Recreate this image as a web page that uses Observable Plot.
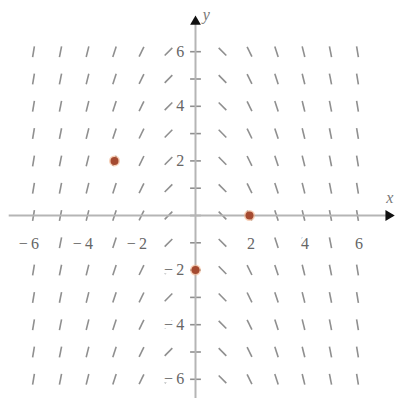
<!DOCTYPE html>
<html>
<head>
<meta charset="utf-8">
<script src="https://cdn.jsdelivr.net/npm/d3@7"></script>
<script src="https://cdn.jsdelivr.net/npm/@observablehq/plot@0.6"></script>
<style>
  html, body { margin: 0; padding: 0; background: #fff; }
</style>
</head>
<body>
<div id="chart"></div>
<script>
// grid of slope-field sample points
const gridX = [-6, -5, -4, -3, -2, -1, 0, 1, 2, 3, 4, 5, 6];
const gridY = [-6, -5, -4, -3, -2, -1, 0, 1, 2, 3, 4, 5, 6];
// marked initial points
const pointsX = [-3, 2, 0];
const pointsY = [2, 0, -2];
// tick labels
const xTickValues = [-6, -4, -2, 2, 4, 6];
const yTickValues = [-6, -4, -2, 2, 4, 6];
// axis extents
const xAxisExtent = [-6.9, 7.15];
const yAxisExtent = [-6.7, 7.1];

const slope = (x, y) => -x;
const halfLen = 0.2;

const segs = [];
for (const x of gridX) for (const y of gridY) {
  const t = Math.atan(slope(x, y));
  segs.push({x1: x - halfLen * Math.cos(t), y1: y - halfLen * Math.sin(t),
             x2: x + halfLen * Math.cos(t), y2: y + halfLen * Math.sin(t)});
}
const pts = pointsX.map((x, i) => ({x, y: pointsY[i]}));
const fmt = v => (v < 0 ? "\u2212\u2009" : "") + Math.abs(v);
const serif = "Liberation Serif, DejaVu Serif, serif";

const ux = 27, uy = 27.3, ox = 195, oy = 215, W = 401, H = 404;

const chart = Plot.plot({
  width: W, height: H,
  marginLeft: 0, marginRight: 0, marginTop: 0, marginBottom: 0,
  x: {domain: [-ox / ux, (W - ox) / ux], axis: null},
  y: {domain: [-(H - oy) / uy, oy / uy], axis: null},
  style: {background: "#fff"},
  marks: [
    Plot.link(segs, {x1: "x1", y1: "y1", x2: "x2", y2: "y2", stroke: "#8f8f8f", strokeWidth: 1.6}),
    Plot.ruleY([0], {x1: xAxisExtent[0], x2: xAxisExtent[1], stroke: "#b5b5b5", strokeWidth: 2}),
    Plot.ruleX([0], {y1: yAxisExtent[0], y2: yAxisExtent[1], stroke: "#b5b5b5", strokeWidth: 2}),
    Plot.dot([{x: xAxisExtent[1], y: 0}], {x: "x", y: "y", symbol: "triangle", r: 4, fill: "#111", rotate: 90}),
    Plot.dot([{x: 0, y: yAxisExtent[1]}], {x: "x", y: "y", symbol: "triangle", r: 4, fill: "#111"}),
    Plot.text(xTickValues, {x: d => d + 0.2, y: -1.03, text: fmt, textAnchor: "end",
      fontSize: 16, fontFamily: serif, fill: "#666", stroke: "#fff", strokeWidth: 7}),
    Plot.text(yTickValues, {x: -0.42, y: d => d, text: fmt, textAnchor: "end",
      fontSize: 16, fontFamily: serif, fill: "#666", stroke: "#fff", strokeWidth: 7}),
    Plot.text(["x"], {x: 7.2, y: 0.65, text: d => d, fontSize: 16, fontFamily: serif, fontStyle: "italic", fill: "#777"}),
    Plot.text(["y"], {x: 0.4, y: 7.35, text: d => d, fontSize: 16, fontFamily: serif, fontStyle: "italic", fill: "#777"}),
    Plot.dot(pts, {x: "x", y: "y", r: 5.5, fill: "#f2b089", fillOpacity: 0.6}),
    Plot.dot(pts, {x: "x", y: "y", r: 4, fill: "#a54a30"})
  ]
});
document.getElementById("chart").appendChild(chart);
</script>
</body>
</html>
